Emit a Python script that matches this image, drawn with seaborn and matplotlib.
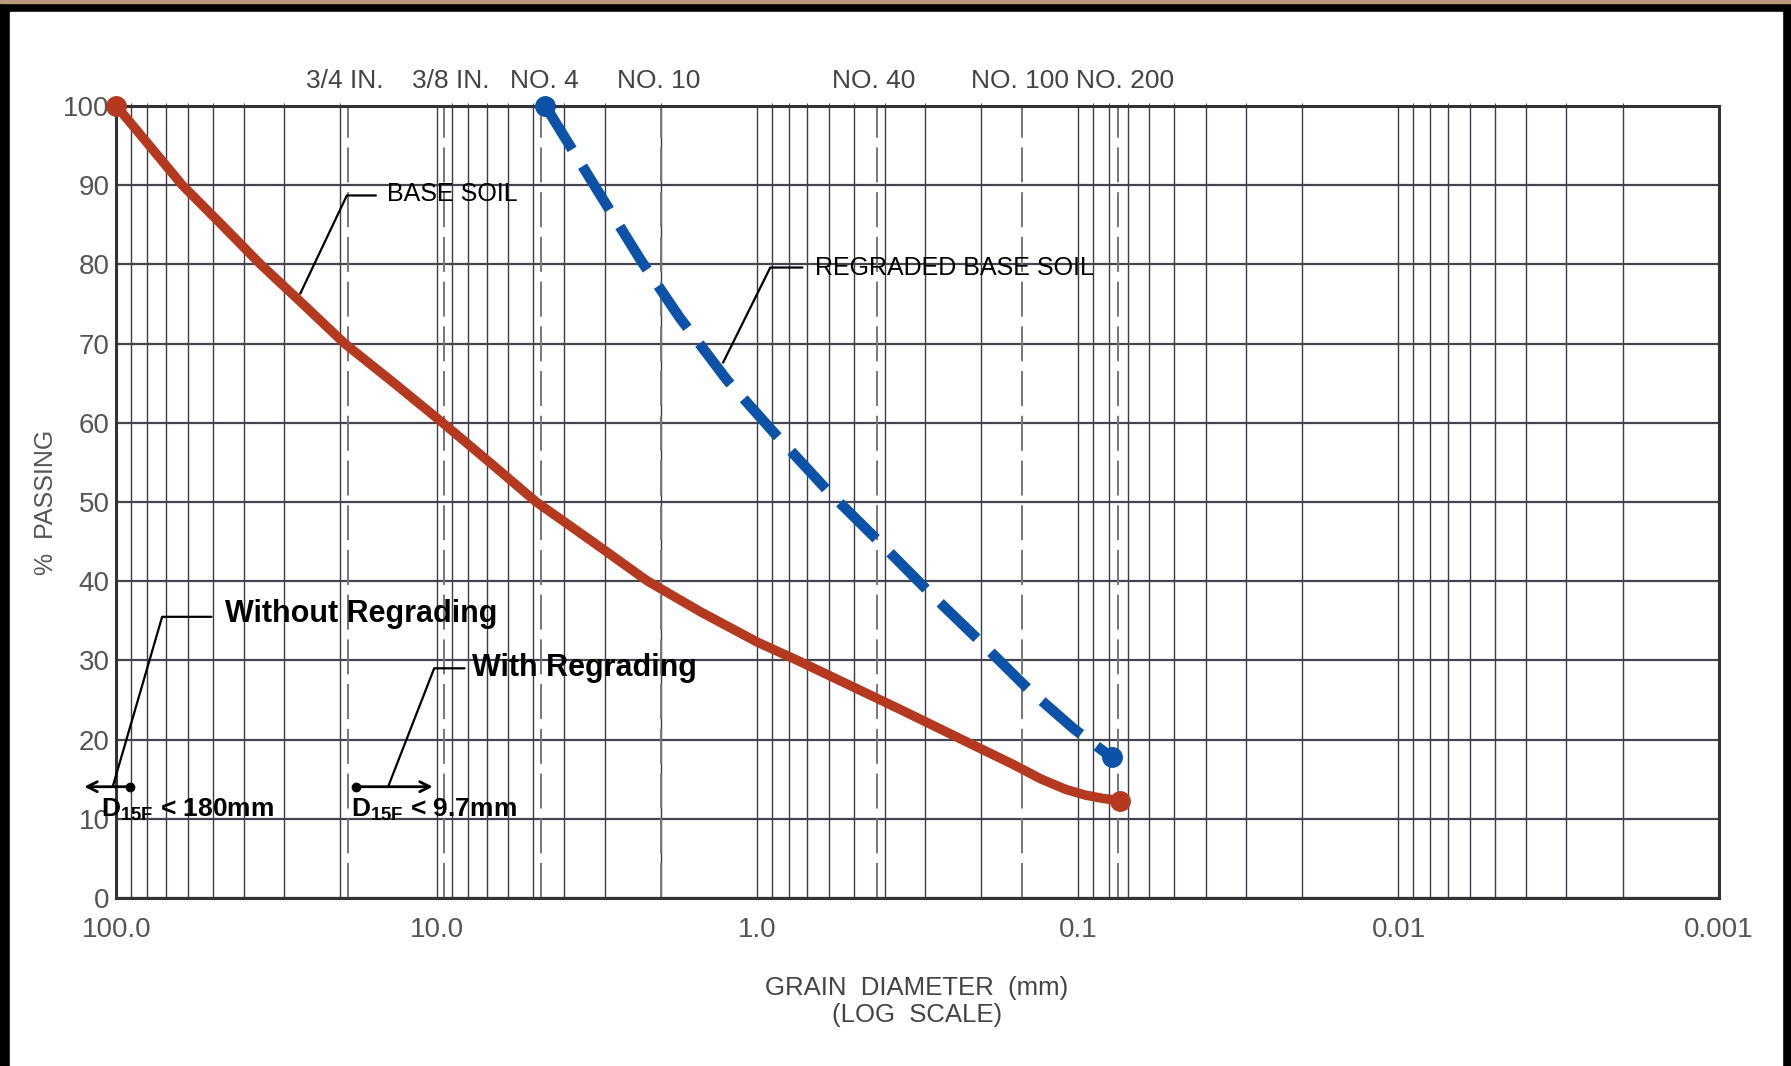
import numpy as np
import pandas as pd
import seaborn as sns
import matplotlib.pyplot as plt
from matplotlib.patches import Rectangle

# grain size (mm) and percent passing
base_d = [100, 85.5, 62.3, 48, 35.5, 27, 19.4, 13.5, 9.6, 6.8, 4.9, 3.3, 2.2, 1.5, 1.0, 0.75, 0.5, 0.35,
          0.23, 0.16, 0.13, 0.109, 0.095, 0.083, 0.074]
base_p = [100, 96.7, 90, 85.4, 80, 75.5, 70, 64.9, 60, 54.9, 50, 45.1, 40, 36.1, 32.3, 30, 26.6, 23.6,
          20, 16.9, 15.0, 13.7, 13.0, 12.55, 12.3]

regr_d = [4.59, 3.13, 2.31, 1.75, 1.245, 0.881, 0.600, 0.42, 0.286, 0.2056, 0.144, 0.1033, 0.0785]
regr_p = [100, 89.1, 80.5, 73.3, 65.4, 58.6, 51.3, 45.1, 38.3, 32.7, 26.5, 21.4, 17.75]

sieve_mm = [19.0, 9.5, 4.75, 2.0, 0.425, 0.15, 0.075]
sieve_labels = ['3/4 IN.', '3/8 IN.', 'NO. 4', 'NO. 10', 'NO. 40', 'NO. 100', 'NO. 200']
label_mm = [19.4, 9.03, 4.61, 2.03, 0.434, 0.152, 0.0714]

xtick_vals = [100, 10, 1, 0.1, 0.01, 0.001]
xtick_labels = ['100.0', '10.0', '1.0', '0.1', '0.01', '0.001']
ytick_vals = list(range(0, 101, 10))

sns.set_style('white')
plt.rcParams['font.family'] = ['Liberation Sans', 'DejaVu Sans']
plt.rcParams['mathtext.fontset'] = 'custom'
plt.rcParams['mathtext.rm'] = 'Liberation Sans'
plt.rcParams['mathtext.bf'] = 'Liberation Sans:bold'

fig = plt.figure(figsize=(17.91, 10.66), dpi=100, facecolor='black')
fig.patches.append(Rectangle((0, 0.997), 1, 0.003, transform=fig.transFigure, color='#b89a7a', zorder=-10))
fig.patches.append(Rectangle((10 / 1791, 0), (1782 - 10) / 1791, (1066 - 12) / 1066,
                             transform=fig.transFigure, color='white', zorder=-10))

ax = fig.add_axes([0.0650, 0.1576, 0.8948, 0.7430])
ax.set_xscale('log')
ax.set_xlim(100, 0.001)
ax.set_ylim(0, 100)
ax.set_facecolor('white')

# grid
for dec in [0.001, 0.01, 0.1, 1, 10]:
    for k in range(1, 10):
        ax.axvline(dec * k, color='#3a3a4a', lw=1.0, zorder=1)
for y in ytick_vals:
    ax.axhline(y, color='#45454f', lw=1.6, zorder=1)
for s in sieve_mm:
    ax.axvline(s, color='#777777', lw=1.4, dashes=(18, 5), zorder=1)

for sp in ax.spines.values():
    sp.set_color('#333333')
    sp.set_linewidth(2.2)

base_df = pd.DataFrame({'d': base_d, 'p': base_p})
regr_df = pd.DataFrame({'d': regr_d, 'p': regr_p})
red = '#b5391f'
blue = '#0b52a8'
sns.lineplot(data=base_df, x='d', y='p', ax=ax, color=red, lw=6.8, sort=False, zorder=4,
             solid_capstyle='round', solid_joinstyle='round')
sns.lineplot(data=regr_df, x='d', y='p', ax=ax, color=blue, lw=7.5, sort=False, zorder=4,
             dashes=False, linestyle=(0, (4.9, 1.9)))
ax.plot([base_d[0], base_d[-1]], [base_p[0], base_p[-1]], 'o', color=red, ms=14, zorder=5, clip_on=False)
ax.plot([regr_d[0], regr_d[-1]], [regr_p[0], regr_p[-1]], 'o', color=blue, ms=14, zorder=5, clip_on=False)

ax.set_xticks(xtick_vals)
ax.set_xticklabels(xtick_labels)
ax.xaxis.set_minor_locator(plt.NullLocator())
ax.set_yticks(ytick_vals)
ax.tick_params(axis='both', length=0, labelsize=20, colors='#555555')
ax.tick_params(axis='x', pad=14)
ax.tick_params(axis='y', pad=5)
ax.set_xlabel('')
ax.set_ylabel('')
fig.text(0.512, 0.0732, 'GRAIN  DIAMETER  (mm)', fontsize=18.5, color='#444444', ha='center', va='center')
fig.text(0.512, 0.0475, '(LOG  SCALE)', fontsize=18.5, color='#444444', ha='center', va='center')
fig.text(0.0255, 0.5285, '%  PASSING', fontsize=18, color='#555555', ha='center', va='center', rotation=90)

top = ax.secondary_xaxis('top')
top.set_xticks(label_mm)
top.set_xticklabels(sieve_labels)
top.tick_params(length=0, labelsize=19, colors='#444444', pad=9)
top.spines['top'].set_visible(False)

# leader annotations
lw = 1.6
ax.plot([26.7, 19.1, 15.5], [76.3, 88.7, 88.7], color='black', lw=lw, zorder=3)
ax.text(14.3, 88.9, 'BASE SOIL', fontsize=18, va='center', ha='left', color='black')
ax.plot([1.28, 0.912, 0.724], [67.6, 79.6, 79.6], color='black', lw=lw, zorder=3)
ax.text(0.662, 79.6, 'REGRADED BASE SOIL', fontsize=18, va='center', ha='left', color='black')

ax.plot([102.7, 72.0, 50.5], [14.05, 35.5, 35.5], color='black', lw=lw, zorder=3, clip_on=False)
ax.text(46.0, 35.8, 'Without Regrading', fontsize=22, fontweight='bold',
        va='center', ha='left', color='black')
ax.plot([14.2, 10.2, 8.2], [14.05, 29.0, 29.0], color='black', lw=lw, zorder=3)
ax.text(7.79, 29.0, 'With Regrading', fontsize=22, fontweight='bold',
        va='center', ha='left', color='black')

ax.annotate('', xy=(126, 14.05), xytext=(90.7, 14.05), zorder=6, annotation_clip=False,
            arrowprops=dict(arrowstyle='->', color='black', lw=2, mutation_scale=18, shrinkA=0, shrinkB=0))
ax.plot([90.7], [14.05], 'o', color='black', ms=6, zorder=6, clip_on=False)
ax.annotate('', xy=(10.3, 14.05), xytext=(17.9, 14.05), zorder=6,
            arrowprops=dict(arrowstyle='->', color='black', lw=2, mutation_scale=18, shrinkA=0, shrinkB=0))
ax.plot([17.9], [14.05], 'o', color='black', ms=6, zorder=6)
ax.text(111.8, 11.1, r'D$_{\mathbf{15F}}$ < 180mm', fontsize=19, fontweight='bold',
        va='center', ha='left', color='black', zorder=6)
ax.text(18.55, 11.1, r'D$_{\mathbf{15F}}$ < 9.7mm', fontsize=19, fontweight='bold',
        va='center', ha='left', color='black', zorder=6)

fig.savefig('out.png', dpi=100, facecolor=fig.get_facecolor())
